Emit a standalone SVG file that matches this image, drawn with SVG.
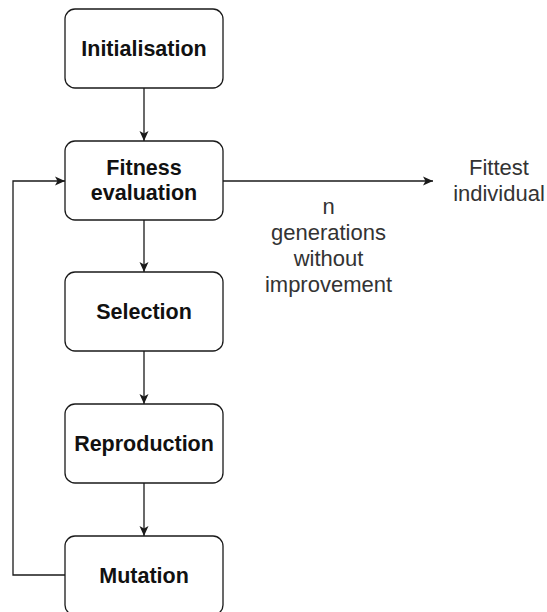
<svg xmlns="http://www.w3.org/2000/svg" width="547" height="612" viewBox="0 0 547 612">
  <style>
    .box { fill: #ffffff; stroke: #1a1a1a; stroke-width: 1.3; }
    .node-label { font-family: "Liberation Sans", Arial, sans-serif; font-weight: bold; font-size: 21.5px; fill: #111111; text-anchor: middle; }
    .plain { font-family: "Liberation Sans", Arial, sans-serif; font-size: 22px; fill: #333333; text-anchor: middle; }
    .edge { fill: none; stroke: #1a1a1a; stroke-width: 1.3; }
  </style>
  <defs>
    <marker id="arrow" markerUnits="userSpaceOnUse" markerWidth="12" markerHeight="10" refX="11" refY="5" orient="auto">
      <path d="M1,0.5 L11,5 L1,9.5 L3.5,5 Z" fill="#1a1a1a"/>
    </marker>
  </defs>

  <rect width="547" height="612" fill="#ffffff"/>

  <!-- connectors -->
  <g id="connectors">
    <path class="edge" d="M144,88 L144,141" marker-end="url(#arrow)"/>
    <path class="edge" d="M144,220 L144,272" marker-end="url(#arrow)"/>
    <path class="edge" d="M144,351 L144,404" marker-end="url(#arrow)"/>
    <path class="edge" d="M144,483 L144,536" marker-end="url(#arrow)"/>
    <path class="edge" d="M65,575 L13,575 L13,181 L65,181" marker-end="url(#arrow)"/>
    <path class="edge" d="M223,181 L433,181" marker-end="url(#arrow)"/>
    <g id="edge-label">
      <text class="plain" x="328.5" y="214">n</text>
      <text class="plain" x="328.5" y="240">generations</text>
      <text class="plain" x="328.5" y="266">without</text>
      <text class="plain" x="328.5" y="292">improvement</text>
    </g>
  </g>

  <!-- nodes -->
  <g id="initialisation">
    <rect class="box" x="65" y="9" width="158" height="79" rx="10"/>
    <text class="node-label" x="144" y="56">Initialisation</text>
  </g>
  <g id="fitness-evaluation">
    <rect class="box" x="65" y="141" width="158" height="79" rx="10"/>
    <text class="node-label" x="144" y="175">Fitness</text>
    <text class="node-label" x="144" y="200">evaluation</text>
  </g>
  <g id="selection">
    <rect class="box" x="65" y="272" width="158" height="79" rx="10"/>
    <text class="node-label" x="144" y="319">Selection</text>
  </g>
  <g id="reproduction">
    <rect class="box" x="65" y="404" width="158" height="79" rx="10"/>
    <text class="node-label" x="144" y="451">Reproduction</text>
  </g>
  <g id="mutation">
    <rect class="box" x="65" y="536" width="158" height="79" rx="10"/>
    <text class="node-label" x="144" y="583">Mutation</text>
  </g>
  <g id="fittest-individual">
    <text class="plain" x="499" y="175">Fittest</text>
    <text class="plain" x="499" y="201">individual</text>
  </g>
</svg>
